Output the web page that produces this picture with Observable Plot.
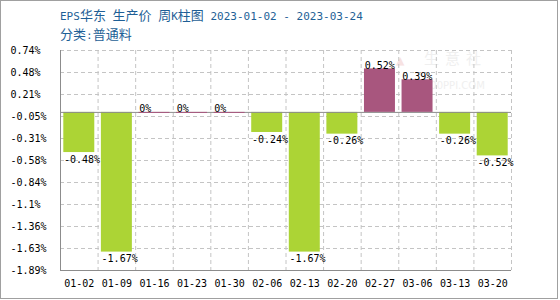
<!DOCTYPE html>
<html><head><meta charset="utf-8">
<script src="https://cdn.jsdelivr.net/npm/d3@7"></script>
<script src="https://cdn.jsdelivr.net/npm/@observablehq/plot@0.6"></script>
<style>
body{margin:0;background:#fff;}
#wrap{position:relative;width:560px;height:300px;overflow:hidden;font-family:"DejaVu Sans Mono","Noto Sans CJK SC",monospace;}
#frame{position:absolute;left:0;top:0;width:558px;height:299px;box-sizing:border-box;border:1px solid #a0a0a0;pointer-events:none;z-index:3;}
.t{position:absolute;left:60px;font-size:11px;line-height:14px;color:#1e5f96;white-space:pre;z-index:2;}
.c{font-family:"Noto Sans CJK SC",sans-serif;font-size:13px;}
#title{top:8px;}
#sub{top:27px;}
#wm{position:absolute;left:0;top:0;z-index:0;color:#efefef;white-space:pre;}
#wm .tri{position:absolute;left:396px;top:52px;font-size:14px;line-height:16px;color:#f7e2e2;}
#wm .n{position:absolute;left:424px;top:50px;font-family:"Noto Sans CJK SC",sans-serif;font-size:15px;line-height:16px;letter-spacing:6px;}
#wm .u{position:absolute;left:424px;top:81px;font-family:"DejaVu Sans",sans-serif;font-size:10px;line-height:10px;}
#chart{position:absolute;left:0;top:0;z-index:1;}
</style></head>
<body>
<div id="wrap">
  <div id="wm"><span class="tri">▲</span><span class="n">生意社</span><span class="u">100PPI.COM</span></div>
  <div id="chart"></div>
  <div class="t" id="title">EPS<span class="c">华东</span> <span class="c">生产价</span> <span class="c">周</span>K<span class="c">柱图</span> 2023-01-02 - 2023-03-24</div>
  <div class="t" id="sub"><span class="c">分类</span>:<span class="c">普通料</span></div>
  <div id="frame"></div>
</div>
<script>
const dates = ["01-02","01-09","01-16","01-23","01-30","02-06","02-13","02-20","02-27","03-06","03-13","03-20"];
const changes = [-0.48,-1.67,0,0,0,-0.24,-1.67,-0.26,0.52,0.39,-0.26,-0.52];
const valueLabels = ["-0.48%","-1.67%","0%","0%","0%","-0.24%","-1.67%","-0.26%","0.52%","0.39%","-0.26%","-0.52%"];
const yTicks = [0.74,0.477,0.214,-0.049,-0.312,-0.575,-0.838,-1.101,-1.364,-1.627,-1.89];
const yTickLabels = ["0.74%","0.48%","0.21%","-0.05%","-0.31%","-0.58%","-0.84%","-1.1%","-1.36%","-1.63%","-1.89%"];
const GREEN = "#acd435", PURPLE = "#a8567e", GRID = "#c4c4c4", AXIS = "#8c8c8c";

const data = dates.map((d, i) => ({i, date: d, v: changes[i], label: valueLabels[i]}));
const nonZero = data.filter(d => d.v !== 0);
const zeroRows = data.filter(d => d.v === 0);
const up = data.filter(d => d.v >= 0);
const down = data.filter(d => d.v < 0);
const yMin = d3.min(yTicks), yMax = d3.max(yTicks);

const chart = Plot.plot({
  width: 560, height: 300,
  marginLeft: 60, marginRight: 49, marginTop: 50, marginBottom: 30,
  style: {background: "transparent", fontFamily: "DejaVu Sans Mono, monospace", fontSize: "10px", color: "#000"},
  x: {type: "linear", domain: [0, dates.length], axis: null},
  y: {domain: [yMin, yMax], axis: null},
  marks: [
    Plot.ruleY(yTicks, {y: d => d, stroke: GRID, strokeDasharray: "4,3"}),
    Plot.ruleX(d3.range(1, dates.length + 1), {x: d => d, stroke: GRID, strokeDasharray: "4,3"}),
    Plot.rectY(nonZero, {x1: "i", x2: d => d.i + 1, y1: 0, y2: "v", fill: d => d.v > 0 ? PURPLE : GREEN, insetLeft: 3.3, insetRight: 3.3}),
    Plot.ruleY([0], {stroke: AXIS}),
    Plot.ruleY(zeroRows, {x1: "i", x2: d => d.i + 1, y: 0, stroke: PURPLE, insetLeft: 3.3, insetRight: 3.3}),
    Plot.ruleX([0], {stroke: AXIS}),
    Plot.ruleY([yMin], {stroke: AXIS}),
    Plot.text(up, {x: "i", y: "v", text: "label", textAnchor: "start", lineAnchor: "bottom", dx: 3.5, dy: 0, fill: "#000"}),
    Plot.text(down, {x: "i", y: "v", text: "label", textAnchor: "start", lineAnchor: "top", dx: 3.5, dy: 3, fill: "#000"}),
    Plot.text(yTicks, {y: d => d, text: (d, i) => yTickLabels[i], frameAnchor: "left", textAnchor: "start", dx: -50, fill: "#000"}),
    Plot.text(data, {x: d => d.i + 0.5, text: "date", frameAnchor: "bottom", dy: 16, fill: "#000"})
  ]
});
document.getElementById("chart").append(chart);
</script>
</body></html>
